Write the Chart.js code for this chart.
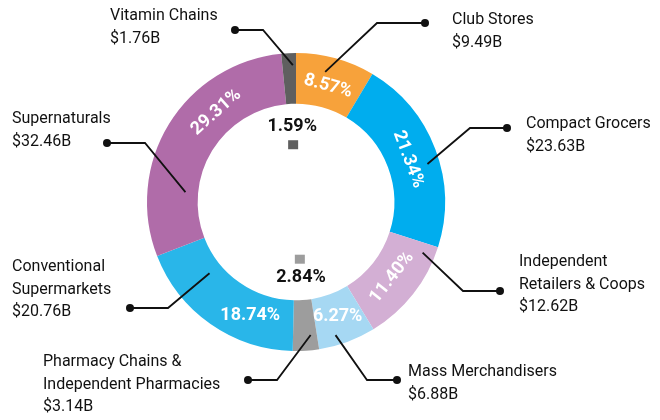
<!DOCTYPE html>
<html>
<head>
<meta charset="utf-8">
<script src="https://cdn.jsdelivr.net/npm/chart.js@4.4.1/dist/chart.umd.min.js"></script>
<style>
  html, body { margin: 0; padding: 0; background: #fff; }
  #wrap { width: 660px; height: 420px; position: relative; }
</style>
</head>
<body>
<div id="wrap"><canvas id="channel-chart"></canvas></div>
<script>
// channel sales, clockwise from 12 o'clock
const channels = [
  ['Club Stores'],
  ['Compact Grocers'],
  ['Independent', 'Retailers & Coops'],
  ['Mass Merchandisers'],
  ['Pharmacy Chains &', 'Independent Pharmacies'],
  ['Conventional', 'Supermarkets'],
  ['Supernaturals'],
  ['Vitamin Chains']
];
const salesB = [9.49, 23.63, 12.62, 6.88, 3.14, 20.76, 32.46, 1.76];
const shareLabels = ['8.57%', '21.34%', '11.40%', '6.27%', '2.84%', '18.74%', '29.31%', '1.59%'];
const sliceColors = ['#F7A23B', '#00ADEE', '#D3AFD4', '#A6D8F3', '#9D9D9D', '#29B6E9', '#B06CA9', '#5F5F5F'];

const FONT = 'Roboto, "DejaVu Sans", sans-serif';

// annotation layout: where the callout line leaves the slice (t = along the arc, r = across the ring),
// its elbow, its dot, and the text anchor (left x, first baseline)
const callouts = [
  { t: 0.41, r: 0.69, bend: [377, 23],  dot: [425, 23],  text: [452, 24] },
  { t: 0.56, r: 0.76, bend: [470, 128], dot: [507, 128], text: [526, 128] },
  { t: 0.10, r: 0.75, bend: [463, 291], dot: [500, 291], text: [519, 266] },
  { t: 0.66, r: 0.80, bend: [367, 380], dot: [397, 380], text: [408, 376] },
  { t: 0.26, r: 0.70, bend: [277, 380], dot: [248, 380], text: [43, 366] },
  { t: 0.73, r: 0.27, bend: [168, 308], dot: [130, 308], text: [12, 271] },
  { t: 0.25, r: 0.25, bend: [145, 143], dot: [107, 143], text: [12, 123] },
  { t: 0.77, r: 0.76, bend: [263, 30],  dot: [235, 30],  text: [110, 20] }
];
// where along each slice the percent sits (0.5 = middle)
const labelAt = [0.5, 0.5, 0.5, 0.5, 0.5, 0.31, 0.66, 0.5];

function polar(arc, t, rf) {
  const a = arc.startAngle + (arc.endAngle - arc.startAngle) * t;
  const r = arc.innerRadius + (arc.outerRadius - arc.innerRadius) * rf;
  return { a, x: arc.x + Math.cos(a) * r, y: arc.y + Math.sin(a) * r };
}

const donutLabels = {
  id: 'donutLabels',
  afterDatasetsDraw(chart) {
    const ctx = chart.ctx;
    const meta = chart.getDatasetMeta(0);
    const values = chart.data.datasets[0].data;
    const total = values.reduce((s, v) => s + v, 0);

    meta.data.forEach((el, i) => {
      const arc = el.getProps(['x', 'y', 'startAngle', 'endAngle', 'innerRadius', 'outerRadius'], true);
      const share = values[i] / total * 100;
      ctx.save();

      if (share < 3) {
        // tiny slices: label inside the hole, with a swatch
        const mid = (arc.startAngle + arc.endAngle) / 2;
        const sx = arc.x + Math.cos(mid) * (arc.innerRadius - 41);
        const sy = arc.y + Math.sin(mid) * (arc.innerRadius - 41);
        const tx = arc.x + Math.cos(mid) * (arc.innerRadius - 23);
        const ty = arc.y + Math.sin(mid) * (arc.innerRadius - 23);
        ctx.fillStyle = sliceColors[i];
        ctx.fillRect(sx - 5, sy - 4.5, 10, 9);
        ctx.fillStyle = '#111';
        ctx.font = 'bold 18px ' + FONT;
        ctx.textAlign = 'center';
        ctx.textBaseline = 'middle';
        ctx.fillText(shareLabels[i], tx, ty);
      } else {
        const p = polar(arc, labelAt[i], 0.45);
        const fromTop = ((p.a + Math.PI / 2) * 180 / Math.PI + 360) % 360;
        let rot = p.a + Math.PI / 2;
        while (rot > Math.PI) rot -= 2 * Math.PI;
        while (rot < -Math.PI) rot += 2 * Math.PI;
        if (rot > Math.PI / 2) rot -= Math.PI;
        if (rot < -Math.PI / 2) rot += Math.PI;
        if (fromTop > 140 && fromTop < 220) rot = 0;  // bottom labels stay flat
        ctx.translate(p.x, p.y);
        ctx.rotate(rot);
        ctx.fillStyle = '#fff';
        ctx.font = 'bold 18px ' + FONT;
        ctx.textAlign = 'center';
        ctx.textBaseline = 'middle';
        ctx.fillText(shareLabels[i], 0, 1);
      }
      ctx.restore();

      // callout line + dot + name/value
      const c = callouts[i];
      const start = polar(arc, c.t, c.r);
      ctx.save();
      ctx.strokeStyle = '#111';
      ctx.lineWidth = 1.8;
      ctx.beginPath();
      ctx.moveTo(start.x, start.y);
      ctx.lineTo(c.bend[0], c.bend[1]);
      ctx.lineTo(c.dot[0], c.dot[1]);
      ctx.stroke();
      ctx.fillStyle = '#111';
      ctx.beginPath();
      ctx.arc(c.dot[0], c.dot[1], 4, 0, Math.PI * 2);
      ctx.fill();

      const lines = chart.data.labels[i].concat([`$${values[i].toFixed(2)}B`]);
      ctx.font = '16px ' + FONT;
      ctx.textAlign = 'left';
      ctx.textBaseline = 'alphabetic';
      lines.forEach((ln, k) => ctx.fillText(ln, c.text[0], c.text[1] + k * 22.5));
      ctx.restore();
    });
  }
};

new Chart(document.getElementById('channel-chart'), {
  type: 'doughnut',
  data: {
    labels: channels,
    datasets: [{
      data: salesB,
      backgroundColor: sliceColors,
      borderWidth: 0
    }]
  },
  options: {
    responsive: true, maintainAspectRatio: false,
    animation: false,
    cutout: '66%',
    layout: { padding: { left: 147, right: 215, top: 53, bottom: 69 } },
    plugins: {
      legend: { display: false },
      tooltip: { enabled: false }
    }
  },
  plugins: [donutLabels]
});
</script>
</body>
</html>
